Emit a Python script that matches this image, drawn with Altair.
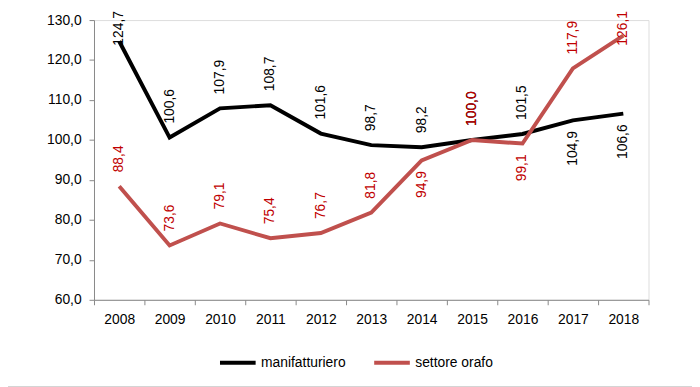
import altair as alt
import pandas as pd

years = [str(y) for y in range(2008, 2019)]
manif = [124.7, 100.6, 107.9, 108.7, 101.6, 98.7, 98.2, 100.0, 101.5, 104.9, 106.6]
orafo = [88.4, 73.6, 79.1, 75.4, 76.7, 81.8, 94.9, 100.0, 99.1, 117.9, 126.1]
manif_pos = ["above"] * 9 + ["below"] * 2
orafo_pos = ["above"] * 6 + ["below", "above", "below", "above", "above"]
series = ["manifatturiero", "settore orafo"]
line_colors = ["#000000", "#C0504D"]
text_colors = ["#000000", "#C00000"]
y_ticks = [60, 70, 80, 90, 100, 110, 120, 130]

rows = []
for name, vals, pos in [(series[0], manif, manif_pos), (series[1], orafo, orafo_pos)]:
    for yr, v, p in zip(years, vals, pos):
        rows.append({"anno": yr, "serie": name, "valore": v, "pos": p,
                     "etichetta": f"{v:.1f}".replace(".", ",")})
df = pd.DataFrame(rows)

FONT = "Liberation Sans"

xenc = alt.X("anno:O", title=None, bandPosition=0.5,
             scale=alt.Scale(type="band", paddingInner=0, paddingOuter=0),
             axis=alt.Axis(labelAngle=0, tickBand="extent", labelPadding=8,
                           labelFontSize=14, labelFont=FONT, labelColor="black"))
yscale = alt.Scale(domain=[60, 130], nice=False, zero=False)
yaxis = alt.Axis(values=y_ticks, labelExpr="replace(format(datum.value, '.1f'), '.', ',')",
                 grid=False, labelPadding=8, labelFontSize=14, labelFont=FONT, labelColor="black")

base = alt.Chart(df)

lines = base.mark_line(strokeWidth=4).encode(
    x=xenc,
    y=alt.Y("valore:Q", title=None, scale=yscale, axis=yaxis),
    color=alt.Color("serie:N", scale=alt.Scale(domain=series, range=line_colors),
                    legend=alt.Legend(title=None, orient="none", legendX=125, legendY=326,
                                      direction="horizontal", symbolType="stroke",
                                      symbolSize=1300, symbolStrokeWidth=4,
                                      labelFontSize=14, labelFont=FONT, labelColor="black",
                                      columnPadding=20, labelOffset=3)),
    order=alt.Order("anno:O"),
)

tcolor = alt.condition(alt.datum.serie == series[1], alt.value(text_colors[1]), alt.value(text_colors[0]))

above = base.transform_filter(alt.datum.pos == "above").transform_calculate(
    ly="min(datum.valore + 3.5, 123.6)"
).mark_text(angle=270, align="left", baseline="middle", fontSize=14, font=FONT).encode(
    x=xenc,
    y=alt.Y("ly:Q", title=None, scale=yscale, axis=yaxis),
    text="etichetta:N",
    color=tcolor,
)

below = base.transform_filter(alt.datum.pos == "below").transform_calculate(
    ly="datum.valore - 2.7"
).mark_text(angle=270, align="right", baseline="middle", fontSize=14, font=FONT).encode(
    x=xenc,
    y=alt.Y("ly:Q", title=None, scale=yscale, axis=yaxis),
    text="etichetta:N",
    color=tcolor,
)

frame = alt.Chart(pd.DataFrame({"k": [0]})).mark_rule(color="#555555", strokeWidth=2).encode(
    x=alt.value(-95), x2=alt.value(610), y=alt.value(372)
)

chart = alt.layer(lines, above, below, frame).properties(
    width=561, height=283,
    padding={"left": 87, "top": 10, "right": 44, "bottom": 86},
    autosize=alt.AutoSizeParams(type="none"),
).configure_view(stroke=None).configure_axis(
    labelFont=FONT, labelFontSize=14, labelColor="black",
    domainColor="#222222", tickColor="#222222", tickSize=5, domainWidth=1.2, tickWidth=1.2,
).configure(background="white")

chart.save("out.html", embed_options={"renderer": "svg", "actions": False})
